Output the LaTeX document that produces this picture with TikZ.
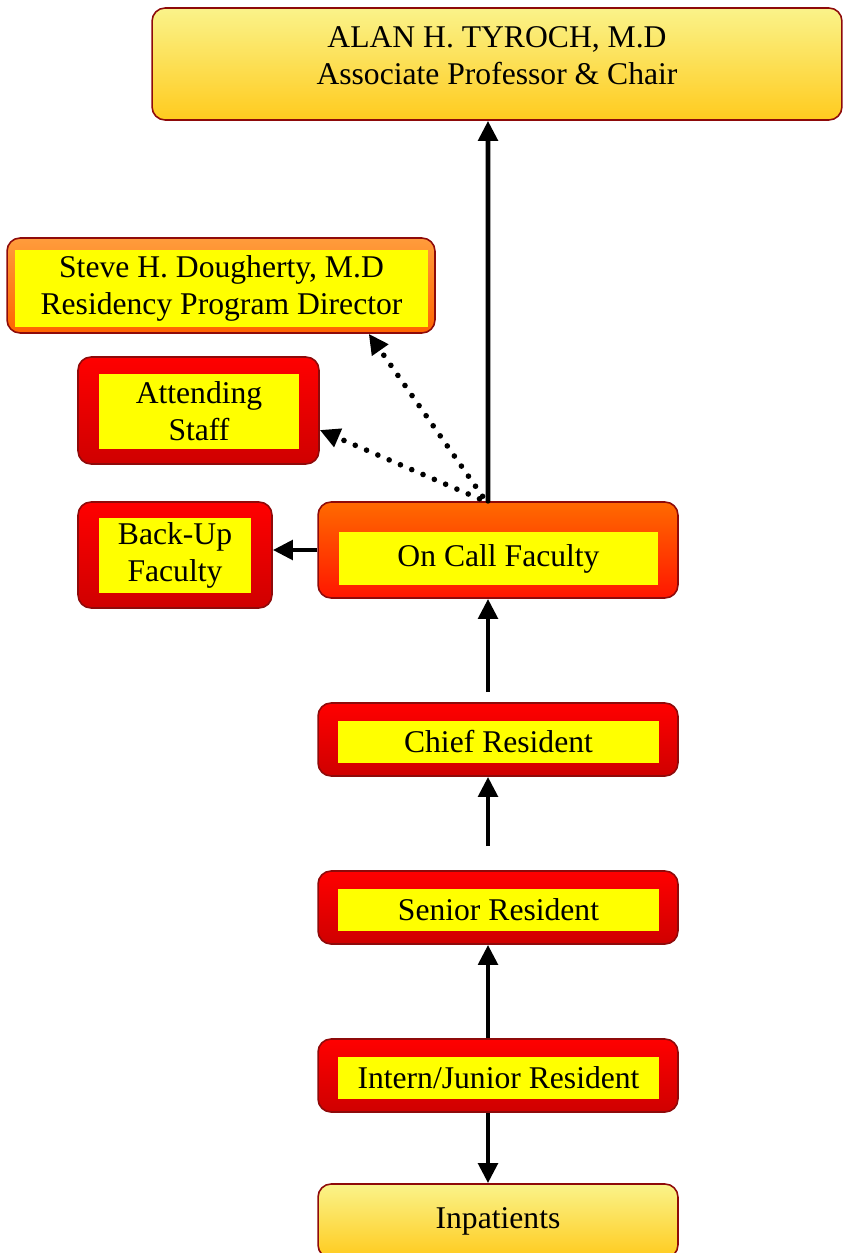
\documentclass[tikz,border=0pt]{standalone}
\usepackage{fontspec}
\setmainfont{Liberation Serif}
\usetikzlibrary{arrows.meta}

\definecolor{edgered}{HTML}{8E0A0A}
\definecolor{paletop}{HTML}{FAF38A}
\definecolor{palebottom}{HTML}{FFCB1E}
\definecolor{orangetop}{HTML}{FF9C3C}
\definecolor{orangebottom}{HTML}{FF6400}
\definecolor{firetop}{HTML}{FF6A00}
\definecolor{firebottom}{HTML}{FF1600}
\definecolor{redtop}{HTML}{FF0000}
\definecolor{redbottom}{HTML}{CF0000}
\definecolor{innerfill}{HTML}{FFFF00}

\tikzset{
  box/.style={draw=edgered, line width=0.9pt, rounded corners=0.26cm, inner sep=0pt},
  palebox/.style={box, top color=paletop, bottom color=palebottom},
  orangebox/.style={box, top color=orangetop, bottom color=orangebottom},
  firebox/.style={box, top color=firetop, bottom color=firebottom},
  redbox/.style={box, top color=redtop, bottom color=redbottom},
  txt/.style={align=center, inner sep=0pt, font=\fontsize{18}{21}\selectfont},
  inner/.style={txt, fill=innerfill},
  arr/.style={line width=2.8pt, -{Triangle[length=0.4cm,width=0.38cm]}},
  dotarr/.style={line width=3.2pt, line cap=round, dash pattern=on 0pt off 7pt,
    -{Triangle[length=0.4cm,width=0.38cm]}}
}

\begin{document}
\begin{tikzpicture}[x=0.02cm,y=-0.02cm]
            \useasboundingbox (0,0) rectangle (842,1253);

            % Define the boxes
            \node[palebox, minimum width=13.8cm, minimum height=2.24cm] (chair) at (497,64) {};
            \node[txt] (chairtext) at (497,56) {ALAN H. TYROCH, M.D\\Associate Professor \& Chair};

            \node[orangebox, minimum width=8.56cm, minimum height=1.9cm] (steve-bg) at (221,285.5) {};
            \node[inner, minimum width=8.26cm, minimum height=1.54cm] (steve) at (221.5,288.5) {Steve H. Dougherty, M.D\\Residency Program Director};

            \node[redbox, minimum width=4.82cm, minimum height=2.14cm] (attend-bg) at (198.5,410.5) {};
            \node[inner, minimum width=4cm, minimum height=1.5cm] (attend) at (199,411.5) {Attending\\Staff};

            \node[redbox, minimum width=3.88cm, minimum height=2.12cm] (backup-bg) at (175,555) {};
            \node[inner, minimum width=3.04cm, minimum height=1.5cm] (backup) at (175,555.5) {Back-Up\\Faculty};

            \node[firebox, minimum width=7.2cm, minimum height=1.92cm] (oncall-bg) at (498,550) {};
            \node[inner, minimum width=6.38cm, minimum height=1.06cm] (oncall) at (498.5,558.5) {On Call Faculty};

            \node[redbox, minimum width=7.2cm, minimum height=1.46cm] (chief-bg) at (498,739.5) {};
            \node[inner, minimum width=6.42cm, minimum height=0.84cm] (chief) at (498.5,742) {Chief Resident};

            \node[redbox, minimum width=7.2cm, minimum height=1.46cm] (senior-bg) at (498,907.5) {};
            \node[inner, minimum width=6.42cm, minimum height=0.84cm] (senior) at (498.5,910) {Senior Resident};

            \node[redbox, minimum width=7.2cm, minimum height=1.46cm] (intern-bg) at (498,1075.5) {};
            \node[inner, minimum width=6.42cm, minimum height=0.84cm] (intern) at (498.5,1078) {Intern/Junior Resident};

            \node[palebox, minimum width=7.2cm, minimum height=1.48cm] (inpat) at (498,1221) {};
            \node[txt] (inpattext) at (498,1221) {Inpatients};

            % Draw arrows
            \draw[arr, line cap=round] ([xshift=-0.2cm]oncall-bg.north) -- ([xshift=-0.18cm]chair.south);
            \draw[dotarr, shorten <=0.12cm] ([xshift=-0.24cm]oncall-bg.north) -- ([xshift=-1.34cm]steve-bg.south east);
            \draw[dotarr, shorten <=0.12cm] ([xshift=-0.26cm]oncall-bg.north) -- ([yshift=-0.39cm]attend-bg.east);
            \draw[arr] (oncall-bg.west) -- (oncall-bg.west -| backup-bg.east);
            \draw[arr, shorten <=0.2cm] ([xshift=-0.2cm]chief-bg.north) -- ([xshift=-0.2cm]oncall-bg.south);
            \draw[arr, shorten <=0.48cm] ([xshift=-0.2cm]senior-bg.north) -- ([xshift=-0.2cm]chief-bg.south);
            \draw[arr] ([xshift=-0.2cm]intern-bg.north) -- ([xshift=-0.2cm]senior-bg.south);
            \draw[arr] ([xshift=-0.2cm]intern-bg.south) -- ([xshift=-0.2cm]inpat.north);
        \end{tikzpicture}
\end{document}
